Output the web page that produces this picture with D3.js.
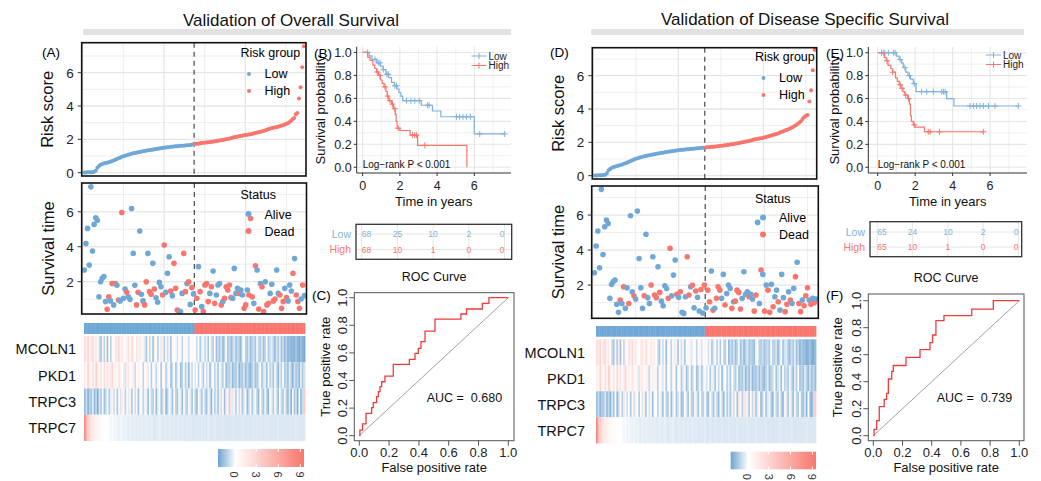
<!DOCTYPE html>
<html>
<head>
<meta charset="utf-8">
<script src="https://cdn.jsdelivr.net/npm/d3@7"></script>
<style>
body { margin: 0; background: #fff; }
svg { font-family: "Liberation Sans", Arial, Helvetica, sans-serif; }
</style>
</head>
<body>
<svg id="fig" width="1041" height="481"></svg>
<script>
// ---------------- data: overall survival (left) ----------------
var osRisk = [
0.01,0.01,0.02,0.02,0.03,0.03,0.05,0.12,0.30,0.40,
0.48,0.52,0.55,0.58,0.60,0.63,0.66,0.70,0.73,0.77,
0.82,0.86,0.90,0.95,0.99,1.02,1.05,1.08,1.11,1.13,
1.16,1.18,1.20,1.22,1.24,1.26,1.28,1.30,1.32,1.34,
1.35,1.37,1.38,1.40,1.42,1.43,1.45,1.46,1.48,1.50,
1.51,1.52,1.53,1.55,1.56,1.57,1.58,1.59,1.60,1.61,
1.62,1.62,1.63,1.64,1.65,1.66,1.68,1.70,
1.72,1.73,1.74,1.76,1.78,1.79,1.80,1.81,1.82,1.83,1.85,1.86,
1.88,1.89,1.91,1.93,1.94,1.96,1.98,2.00,2.02,2.04,2.07,2.10,
2.12,2.14,2.16,2.18,2.20,2.22,2.24,2.26,2.27,2.29,2.30,2.32,
2.35,2.38,2.40,2.43,2.45,2.47,2.50,2.53,2.56,2.60,2.63,2.66,
2.69,2.71,2.73,2.76,2.78,2.82,2.85,2.88,2.92,2.96,3.02,3.10,
3.20,3.28,3.50,3.58,4.45,5.12,6.32,7.58];
var osLowN = 68;
var osTime = [
2.67,4.19,5.05,2.95,7.43,3.75,5.28,5.66,5.52,1.14,
2.00,2.20,2.29,0.86,0.42,1.14,0.90,1.90,0.67,1.90,
1.80,0.95,0.90,5.96,1.05,1.58,1.39,1.14,0.99,6.19,
3.62,1.80,0.67,1.39,4.90,1.28,0.90,0.67,1.99,3.62,
1.43,1.28,3.05,1.58,1.08,0.82,1.96,1.71,1.24,4.10,
1.39,2.48,3.43,1.47,1.20,3.05,1.62,0.38,0.32,0.29,
1.33,3.62,1.43,1.90,1.99,0.70,1.66,1.30,
0.38,1.05,2.86,1.43,0.57,0.29,1.81,1.90,0.86,1.33,
1.71,2.61,0.76,1.24,1.81,1.90,0.67,0.86,1.05,1.71,
1.52,1.81,1.09,1.05,2.76,1.33,1.62,1.33,1.52,1.24,
0.48,0.67,1.52,1.24,5.62,1.14,0.76,2.91,2.67,0.44,
1.90,1.71,0.29,2.00,0.67,0.76,1.33,1.85,0.90,1.01,
2.67,1.33,1.24,0.48,0.86,1.62,1.09,0.90,1.81,1.47,
2.48,3.33,1.24,0.86,0.48,1.01,1.81,1.20];
var osStatus = [ // 1 = dead
0,0,0,0,0,0,0,0,0,0, 0,0,0,0,1,1,0,1,0,1, 0,1,0,1,0,0,1,0,0,0,
0,0,1,1,0,0,0,1,1,0, 1,1,0,1,0,0,0,0,1,1, 0,0,0,1,0,1,1,1,1,0,
0,1,1,0,1,0,1,0,
1,1,0,1,0,1,1,1,1,0, 1,0,1,0,0,0,1,0,1,1, 1,1,1,0,0,0,0,1,0,0,
1,1,0,1,1,1,0,1,0,1, 0,1,1,0,1,1,0,0,1,1, 0,0,1,1,1,0,1,0,0,0,
1,0,1,1,1,0,1,0];

var genes = ["MCOLN1", "PKD1", "TRPC3", "TRPC7"];
var osMcoln1 = [
2.6,1.4,3.2,0.8,2.0,2.8,1.0,1.8,0.4,-0.7,
-1.3,0.6,-1.0,1.2,-1.5,0.3,-0.9,0.9,0.5,2.2,
1.5,2.9,1.0,1.8,0.6,0.2,1.3,2.3,0.5,2.7,
1.2,0.4,2.0,0.8,1.6,0.1,1.0,-0.4,-1.2,0.8,
-0.8,0.4,-1.4,1.1,0.2,-1.0,0.6,-0.3,1.3,-1.1,
0.5,-0.7,1.0,-1.3,0.3,0.8,0.1,-0.5,0.6,0.2,
-0.9,0.5,0.9,0.0,-0.6,0.3,1.1,0.2,
0.1,-0.7,0.4,-1.1,-0.3,0.3,-0.9,0.0,-1.3,0.2,
-0.6,-1.0,0.5,-1.4,-0.8,-1.2,-0.4,-1.6,-0.9,0.1,
-1.3,-0.7,-1.5,-1.0,-0.3,-1.4,-0.8,-1.1,-1.6,-0.2,
0.2,-0.9,-1.2,-0.5,-1.5,-1.0,-0.6,-1.3,0.0,-0.8,
-1.1,-0.4,-1.4,-0.9,0.3,-1.2,-0.6,-0.2,-1.0,-1.5,
-0.5,-1.1,-0.3,-1.3,-0.8,-1.6,-1.0,-1.7,-1.4,-1.8,
-1.6,-1.9,-1.3,-1.7,-2.0,-1.5,-1.8,-2.1];
var osPkd1 = [
1.6,0.6,3.2,1.3,0.4,2.4,0.9,3.4,1.4,0.5,
2.0,0.2,2.8,1.1,2.1,0.0,1.7,3.0,0.7,1.3,
0.5,2.2,1.0,0.2,1.6,-0.5,1.2,1.8,0.3,0.9,
1.4,-0.7,0.6,1.3,0.1,0.7,-0.9,0.5,1.1,-0.3,
0.2,-1.1,0.6,0.0,-0.8,1.0,0.3,-1.3,0.1,0.7,
-1.0,-0.2,0.5,-1.4,-0.7,0.2,-1.2,-0.4,0.3,-1.5,
-0.9,0.1,-1.1,-0.3,-1.6,0.0,-0.8,0.2,
-0.4,0.3,-1.0,0.1,-0.2,-1.2,0.4,-0.7,0.0,-1.4,
-0.3,0.2,-0.9,-0.1,-1.3,0.3,-0.5,-1.0,0.1,-1.5,
-0.8,-1.1,-0.4,-1.6,-0.9,-1.3,-0.3,-1.7,-1.0,-1.2,
-0.5,-1.5,-0.8,-1.3,-1.7,-1.0,-0.4,-1.4,-1.1,-0.6,
0.2,-1.2,-0.5,-0.2,-1.4,0.1,-0.9,-0.4,-1.3,0.0,
-0.6,-1.6,-0.3,-1.0,0.2,-1.2,-0.8,-1.5,-0.2,-1.1,
-1.7,-0.5,-1.3,-0.9,-1.6,-0.3,-1.2,-0.6];
var osTrpc3 = [
-1.5,-0.7,-1.8,-1.0,-1.3,-0.3,-1.6,-0.9,-1.9,-0.4,
-1.2,0.2,-1.4,-0.8,0.5,-1.1,-0.2,1.0,-0.7,0.3,
-1.3,0.7,-0.4,1.5,0.1,-1.0,0.6,-0.3,1.1,-1.2,
0.2,-0.6,0.8,-1.4,0.0,0.5,-0.9,1.2,-0.2,-1.5,
0.3,-0.8,-1.1,0.7,-1.6,-0.3,0.2,-1.3,-0.7,0.6,
-1.7,-1.0,0.1,-0.4,-1.4,0.5,-0.9,-1.2,1.0,-0.2,
-1.5,0.3,-0.7,-1.1,0.7,-0.3,-1.3,0.1,
-0.9,-1.6,0.2,-0.4,-1.2,0.9,-0.8,-1.4,0.0,-0.5,
-1.7,0.5,-1.0,-0.2,-1.3,1.2,-0.7,0.3,-1.5,1.8,
0.8,-0.9,2.0,-0.3,1.0,-1.1,0.2,-0.7,1.4,-1.3,
-0.4,0.6,-1.6,-0.8,0.1,-1.2,-0.3,0.9,-1.0,-1.5,
0.3,-0.7,-1.3,0.0,-0.9,-1.7,0.5,-0.2,-1.1,0.8,
-0.5,-1.4,0.2,-0.8,-1.2,0.6,-1.0,-1.5,-0.3,-1.8,
0.3,-1.3,-0.6,-1.9,0.1,-1.6,-0.7,3.8];
var osTrpc7 = [
8.0,5.0,3.6,2.8,2.1,1.6,1.3,1.0,0.8,0.6,
0.4,0.5,0.3,0.2,0.3,0.1,0.0,0.1,-0.1,0.0,
-0.1,-0.2,0.0,-0.1,-0.2,-0.1,-0.2,-0.3,-0.1,-0.3,
-0.2,-0.2,-0.3,-0.2,-0.3,-0.2,-0.3,-0.3,-0.2,-0.3,
-0.3,-0.2,-0.3,-0.4,-0.3,-0.3,-0.2,-0.3,-0.4,-0.3,
-0.3,-0.4,-0.3,-0.3,-0.4,-0.3,-0.4,-0.3,-0.3,-0.4,
-0.3,-0.4,-0.4,-0.3,-0.4,-0.3,-0.4,-0.4,
-0.4,-0.3,-0.4,-0.4,-0.3,-0.4,-0.4,-0.4,-0.3,-0.4,
-0.4,-0.4,-0.3,-0.4,-0.4,-0.4,-0.4,-0.3,-0.4,-0.4,
-0.4,-0.4,-0.4,-0.3,-0.4,-0.4,-0.4,-0.4,-0.4,-0.3,
-0.4,-0.4,-0.4,-0.4,-0.4,-0.4,-0.3,-0.4,-0.4,-0.4,
-0.4,-0.4,-0.4,-0.4,-0.3,-0.4,-0.4,-0.4,-0.4,-0.4,
-0.4,-0.3,-0.4,-0.4,-0.4,-0.4,-0.4,-0.4,-0.4,-0.4,
-0.4,-0.4,-0.3,-0.4,-0.4,-0.4,-0.4,-0.4];

// Kaplan-Meier (years, survival after each drop) and censor times
var kmOsLowDrops = [[0.35,0.97],[0.5,0.94],[0.75,0.91],[0.95,0.88],[1.1,0.85],[1.25,0.81],[1.4,0.78],[1.55,0.74],
  [1.7,0.71],[1.85,0.68],[1.95,0.65],[2.05,0.62],[2.15,0.58],[3.15,0.54],[3.75,0.49],[4.2,0.44],[6.0,0.29]];
var kmOsLowCens = [0.27,0.66,0.84,0.93,1.11,1.3,1.38,1.73,1.82,2.36,2.59,2.8,3.04,3.48,3.57,5.04,5.21,5.39,5.57,5.79,6.29,7.63];
var kmOsLowEnd = 7.63;
var kmOsHighDrops = [[0.27,0.96],[0.4,0.93],[0.55,0.89],[0.65,0.86],[0.75,0.83],[0.85,0.80],[0.95,0.76],[1.05,0.73],
  [1.15,0.70],[1.25,0.66],[1.32,0.62],[1.4,0.58],[1.55,0.55],[1.65,0.51],[1.75,0.46],[1.8,0.40],[1.85,0.34],
  [2.0,0.32],[2.55,0.28],[2.95,0.19],[5.6,0.0]];
var kmOsHighCens = [0.78,0.93,1.2,1.34,1.46,1.6,1.73,1.91,2.68,2.8,2.89,3.34];
var kmOsHighEnd = 5.6;

var tableTimes = [0, 2, 4, 6, 8];
var osAtRiskLow = [68, 25, 10, 2, 0];
var osAtRiskHigh = [68, 10, 1, 0, 0];

var rocOsFpr = [0,0.004,0.022,0.045,0.083,0.094,0.116,0.128,0.139,0.15,0.172,0.228,0.336,0.374,0.396,0.414,0.441,0.508,0.682,0.72,0.826,0.87,1];
var rocOsTpr = [0,0.041,0.085,0.162,0.203,0.239,0.283,0.319,0.355,0.391,0.432,0.517,0.553,0.597,0.633,0.681,0.758,0.845,0.882,0.918,0.959,1.0,1];
var osAuc = "0.680";

// ---------------- data: disease specific survival (right) ----------------
var dssRisk = [
0.01,0.01,0.02,0.02,0.03,0.04,0.06,0.15,0.32,0.42,
0.48,0.52,0.55,0.58,0.61,0.64,0.67,0.71,0.75,0.79,
0.84,0.88,0.92,0.97,1.01,1.04,1.07,1.10,1.13,1.16,
1.18,1.21,1.23,1.25,1.27,1.29,1.31,1.33,1.35,1.37,
1.38,1.40,1.42,1.43,1.45,1.47,1.48,1.50,1.51,1.52,
1.54,1.55,1.56,1.57,1.58,1.59,1.60,1.61,1.62,1.63,
1.64,1.65,1.66,1.67,1.68,
1.69,1.70,1.71,1.72,1.73,1.74,1.75,1.76,1.78,1.79,
1.80,1.82,1.83,1.85,1.86,1.88,1.89,1.91,1.93,1.95,
1.97,1.99,2.01,2.03,2.05,2.07,2.09,2.12,2.15,2.18,
2.20,2.22,2.24,2.25,2.27,2.30,2.33,2.36,2.39,2.42,
2.45,2.48,2.52,2.55,2.60,2.64,2.68,2.72,2.76,2.80,
2.85,2.90,2.96,3.02,3.10,3.18,3.26,3.40,3.52,3.60,
3.64,4.45,5.12,6.32,7.55];
var dssLowN = 65;
var dssTime = [
2.70,4.23,5.09,2.99,7.47,3.75,5.33,5.71,5.52,1.24,
2.04,2.20,2.29,0.90,0.44,1.14,0.95,1.90,0.67,1.85,
0.95,5.96,1.62,1.39,1.20,6.23,3.52,1.85,0.67,1.39,
4.90,1.28,0.95,2.00,3.62,1.43,1.28,3.05,1.58,1.08,
0.82,1.96,1.80,1.24,4.10,1.39,2.57,3.43,1.47,1.30,
1.62,0.44,0.38,1.33,3.62,1.43,1.90,1.99,0.70,1.66,
1.30,0.52,1.75,0.40,2.00,
0.70,1.71,1.05,2.80,0.57,0.67,1.24,1.90,1.71,1.24,
2.61,0.86,1.52,2.00,1.81,0.67,1.05,1.09,1.71,1.58,
0.63,1.24,2.76,1.47,1.62,1.33,1.47,1.20,0.51,1.43,
5.58,0.95,2.86,2.61,0.51,2.00,1.71,0.44,2.04,0.76,
1.33,1.71,1.05,0.57,2.61,1.28,0.48,0.90,1.62,1.14,
0.95,1.81,2.48,3.30,0.95,0.48,1.14,0.82,1.39,1.85,
1.14,0.90,1.24,0.99,1.20];
var dssStatus = [
0,0,0,0,0,0,0,0,0,0, 0,0,0,0,0,1,0,1,0,0, 1,0,0,1,0,0,0,0,0,1,
0,0,0,1,0,1,1,0,1,0, 0,0,0,1,1,0,0,0,1,0, 1,0,0,0,1,1,0,1,0,1,
0,0,1,0,1,
0,1,1,0,1,0,1,1,1,0, 0,1,0,0,0,1,0,1,1,1, 1,0,0,0,0,1,0,0,1,1,
0,0,1,0,1,0,1,1,0,1, 0,0,1,0,0,0,1,1,0,1, 0,0,1,0,1,1,0,1,1,1,
0,1,0,1,0];

var dssMcoln1 = [
2.4,1.6,3.0,0.7,2.2,2.6,1.1,1.7,0.3,-0.8,
-1.2,0.7,-1.1,1.3,-1.4,0.4,-0.8,1.0,0.6,2.4,
1.4,2.7,0.9,1.9,0.5,0.3,1.4,2.1,0.6,2.5,
1.1,0.3,1.8,0.9,1.5,0.2,-0.5,-1.3,0.9,-0.7,
0.5,-1.5,1.0,0.1,-0.9,0.7,-0.2,1.2,-1.2,0.4,
-0.6,1.1,-1.2,0.4,0.7,0.0,-0.4,0.5,0.3,-0.8,
0.6,0.8,-0.5,0.4,1.0,
0.2,-0.6,0.5,-1.2,-0.4,0.2,-1.0,0.1,-1.2,0.3,
-0.7,-1.1,0.4,-1.5,-0.7,-1.3,-0.5,-1.5,-0.8,0.0,
-1.4,-0.6,-1.6,-0.9,-0.4,-1.3,-0.9,-1.2,-1.5,-0.1,
0.3,-1.0,-1.1,-0.6,-1.4,-0.9,-0.7,-1.2,0.1,-0.9,
-1.0,-0.5,-1.5,-0.8,0.2,-1.3,-0.5,-0.3,-1.1,-1.4,
-0.6,-1.2,-0.2,-1.4,-0.9,-1.7,-1.1,-1.6,-1.5,-1.9,
-1.7,-1.4,-1.8,-2.0,-1.6];
var dssPkd1 = [
1.5,0.7,3.0,1.2,0.5,2.6,0.8,3.3,1.5,0.4,
2.1,0.3,2.7,1.0,2.2,0.1,1.6,3.1,0.8,1.2,
0.6,2.3,0.9,0.3,1.5,-0.4,1.3,1.7,0.4,1.0,
1.3,-0.8,0.7,1.2,0.0,0.8,-1.0,0.6,1.0,-0.4,
0.3,-1.2,0.5,0.1,-0.9,0.9,0.2,-1.4,0.2,0.6,
-1.1,-0.3,0.4,-1.5,-0.6,0.3,-1.3,-0.5,0.2,-1.4,
-0.8,0.0,-1.2,-0.2,0.1,
-0.5,0.2,-1.1,0.0,-0.3,-1.3,0.3,-0.8,0.1,-1.5,
-0.2,0.3,-1.0,-0.2,-1.2,0.2,-0.6,-1.1,0.0,-1.4,
-0.9,-1.2,-0.5,-1.5,-0.8,-1.4,-0.4,-1.6,-1.1,-1.3,
-0.6,-1.4,-0.7,-1.2,-1.6,-0.9,-0.3,-1.5,-1.0,-0.7,
0.1,-1.3,-0.6,-0.1,-1.5,0.2,-1.0,-0.5,-1.2,0.1,
-0.7,-1.5,-0.2,-1.1,0.1,-1.3,-0.9,-1.4,-0.3,-1.0,
-1.6,-0.6,-1.4,-0.8,-1.5];
var dssTrpc3 = [
-1.4,-0.8,-1.7,-1.1,-1.2,-0.4,-1.5,-0.8,-1.8,-0.5,
-1.3,0.3,-1.5,-0.7,0.6,-1.0,-0.3,0.9,-0.6,0.4,
-1.2,0.8,-0.5,1.4,0.2,-1.1,0.5,-0.4,1.0,-1.3,
0.3,-0.5,0.7,-1.5,0.1,0.4,-1.0,1.1,-0.3,-1.4,
0.2,-0.9,-1.2,0.8,-1.5,-0.4,0.3,-1.2,-0.6,0.5,
-1.6,-1.1,0.2,-0.5,-1.3,0.6,-1.0,-1.1,0.9,-0.3,
-1.4,0.4,-0.8,-1.0,0.6,
-1.0,-1.5,0.3,-0.5,-1.3,1.0,-0.7,-1.5,0.1,-0.6,
-1.6,0.6,-1.1,-0.3,-1.2,1.3,-0.6,0.4,-1.4,1.9,
0.9,-1.0,2.1,-0.2,1.1,-1.2,0.3,-0.8,1.5,-1.2,
-0.3,0.7,-1.5,-0.9,0.2,-1.3,-0.4,1.0,-1.1,-1.6,
0.4,-0.8,-1.2,0.1,-1.0,-1.6,0.6,-0.3,-1.2,0.9,
-0.4,-1.5,0.3,-0.9,-1.1,0.5,-1.1,-1.4,-0.4,-1.7,
0.2,-1.4,-1.8,-0.7,3.6];
var dssTrpc7 = [
8.2,4.6,3.4,2.6,2.0,1.5,1.2,0.9,0.7,0.5,
0.4,0.5,0.2,0.3,0.2,0.1,0.0,0.1,-0.1,0.0,
-0.1,-0.2,0.0,-0.2,-0.1,-0.2,-0.3,-0.1,-0.3,-0.2,
-0.2,-0.3,-0.2,-0.3,-0.2,-0.3,-0.3,-0.2,-0.3,-0.3,
-0.2,-0.3,-0.4,-0.3,-0.3,-0.2,-0.3,-0.4,-0.3,-0.3,
-0.4,-0.3,-0.3,-0.4,-0.3,-0.4,-0.3,-0.3,-0.4,-0.3,
-0.4,-0.4,-0.3,-0.4,-0.3,
-0.4,-0.4,-0.3,-0.4,-0.4,-0.3,-0.4,-0.4,-0.4,-0.3,
-0.4,-0.4,-0.4,-0.3,-0.4,-0.4,-0.4,-0.4,-0.3,-0.4,
-0.4,-0.4,-0.4,-0.4,-0.3,-0.4,-0.4,-0.4,-0.4,-0.3,
-0.4,-0.4,-0.4,-0.4,-0.4,-0.3,-0.4,-0.4,-0.4,-0.4,
-0.4,-0.4,-0.4,-0.3,-0.4,-0.4,-0.4,-0.4,-0.4,-0.4,
-0.3,-0.4,-0.4,-0.4,-0.4,-0.4,-0.4,-0.4,-0.4,-0.3,
-0.4,-0.4,-0.4,-0.4,-0.4];

var kmDssLowDrops = [[1.0,0.97],[1.15,0.94],[1.28,0.91],[1.37,0.87],[1.5,0.83],[1.62,0.80],[1.75,0.77],
  [1.9,0.73],[2.05,0.66],[3.68,0.60],[4.07,0.535]];
var kmDssLowCens = [0.21,0.3,0.39,0.57,0.84,0.93,1.2,1.45,1.7,1.95,2.35,2.62,2.97,3.42,3.51,3.6,
  4.93,5.11,5.28,5.46,5.64,5.91,6.26,7.51];
var kmDssLowEnd = 7.51;
var kmDssHighDrops = [[0.35,0.96],[0.45,0.93],[0.55,0.89],[0.7,0.86],[0.8,0.83],[0.95,0.78],[1.05,0.75],
  [1.15,0.72],[1.25,0.69],[1.35,0.66],[1.45,0.63],[1.6,0.60],[1.7,0.55],[1.75,0.45],[1.8,0.40],
  [1.9,0.37],[2.0,0.35],[2.5,0.31]];
var kmDssHighCens = [0.5,0.8,1.2,1.3,1.5,1.65,1.95,2.7,2.8,3.3,5.64];
var kmDssHighEnd = 5.64;

var dssAtRiskLow = [65, 24, 10, 2, 0];
var dssAtRiskHigh = [65, 10, 1, 0, 0];

var rocDssFpr = [0,0.005,0.023,0.041,0.075,0.091,0.103,0.126,0.137,0.224,0.32,0.388,0.406,0.429,0.484,0.674,0.822,1];
var rocDssTpr = [0,0.047,0.111,0.215,0.269,0.314,0.42,0.477,0.52,0.58,0.637,0.69,0.746,0.852,0.889,0.938,1.0,1];
var dssAuc = "0.739";

// ---------------- drawing ----------------
var svg = d3.select("#fig");
var blue = "#6fa8d6", red = "#f8766d", gridCol = "#e6e6e6";
var heatColor = d3.scaleLinear().domain([-2.2, 0.2, 9.5]).range(["#70a3d0", "#ffffff", "#f8766d"]);

function drawTitle(txt, cx, by, bx0, bx1) {
    svg.append("text").attr("x", cx).attr("y", by).attr("text-anchor", "middle")
        .attr("font-size", 17).attr("fill", "#111").text(txt);
    svg.append("rect").attr("x", bx0).attr("y", 29).attr("width", bx1 - bx0).attr("height", 6)
        .attr("fill", "#e2e2e2");
}

function gridLines(g, x, y, xs, ys, w) {
    g.selectAll(null).data(xs).enter().append("line")
        .attr("x1", x).attr("x2", x).attr("y1", y.range()[0]).attr("y2", y.range()[1])
        .attr("stroke", gridCol).attr("stroke-width", w);
    g.selectAll(null).data(ys).enter().append("line")
        .attr("x1", x.range()[0]).attr("x2", x.range()[1]).attr("y1", y).attr("y2", y)
        .attr("stroke", gridCol).attr("stroke-width", w);
}

function yTicks(g, y, x0, vals, fs) {
    vals.forEach(function (v) {
        g.append("line").attr("x1", x0 - 4).attr("x2", x0).attr("y1", y(v)).attr("y2", y(v))
            .attr("stroke", "#333").attr("stroke-width", 1);
        g.append("text").attr("x", x0 - 8).attr("y", y(v)).attr("dy", "0.36em")
            .attr("text-anchor", "end").attr("font-size", fs).attr("fill", "#222").text(v);
    });
}

function vLabel(g, txt, bx, cy, fs) {
    g.append("text").attr("transform", "translate(" + bx + "," + cy + ") rotate(-90)")
        .attr("text-anchor", "middle").attr("font-size", fs).attr("fill", "#111").text(txt);
}

function drawRisk(L, risk, nLow) {
    var g = svg.append("g");
    var n = risk.length;
    var x = d3.scaleLinear().domain([0, n + 1]).range([L.x0 + 1, L.x1 - 0.5]);
    var y = d3.scaleLinear().domain(L.yDom).range([L.y1, L.y0]);
    gridLines(g, x, y, [25, 75, 125], [1, 3, 5, 7], 0.7);
    gridLines(g, x, y, [0, 50, 100], [0, 2, 4, 6], 1.3);
    g.append("line").attr("x1", x(nLow + 0.5)).attr("x2", x(nLow + 0.5))
        .attr("y1", L.y0).attr("y2", L.y1).attr("stroke", "#555").attr("stroke-width", 1.3)
        .attr("stroke-dasharray", "5,4");
    g.selectAll(null).data(risk).enter().append("circle")
        .attr("cx", function (d, i) { return x(i + 1); })
        .attr("cy", function (d) { return y(d); })
        .attr("r", 2)
        .attr("fill", function (d, i) { return i < nLow ? blue : red; });
    g.append("rect").attr("x", L.x0).attr("y", L.y0).attr("width", L.x1 - L.x0).attr("height", L.y1 - L.y0)
        .attr("fill", "none").attr("stroke", "#111").attr("stroke-width", 1.6);
    yTicks(g, y, L.x0, [0, 2, 4, 6], 13.5);
    vLabel(g, "Risk score", L.labX, (L.y0 + L.y1) / 2, 16.5);
    g.append("text").attr("x", L.tagX).attr("y", L.tagY).attr("font-size", 13.5).text(L.tag);
    // legend
    g.append("text").attr("x", L.legX).attr("y", L.legY).attr("font-size", 12.5).text("Risk group");
    [["Low", blue], ["High", red]].forEach(function (d, i) {
        g.append("circle").attr("cx", L.legX + 8.5).attr("cy", L.legY + 17 + i * 17).attr("r", 2).attr("fill", d[1]);
        g.append("text").attr("x", L.legX + 24).attr("y", L.legY + 21 + i * 17).attr("font-size", 12.5).text(d[0]);
    });
}

function drawSurv(L, time, status, nLow) {
    var g = svg.append("g");
    var n = time.length;
    var x = d3.scaleLinear().domain([0, n + 1]).range([L.x0 + 1, L.x1 - 0.5]);
    var y = d3.scaleLinear().domain(L.yDom).range([L.y1, L.y0]);
    gridLines(g, x, y, [25, 75, 125], [1, 3, 5, 7], 0.7);
    gridLines(g, x, y, [0, 50, 100], [2, 4, 6], 1.3);
    g.append("line").attr("x1", x(nLow + 0.5)).attr("x2", x(nLow + 0.5))
        .attr("y1", L.y0).attr("y2", L.y1).attr("stroke", "#555").attr("stroke-width", 1.3)
        .attr("stroke-dasharray", "5,4");
    g.selectAll(null).data(time).enter().append("circle")
        .attr("cx", function (d, i) { return x(i + 1); })
        .attr("cy", function (d) { return y(d); })
        .attr("r", 2.8)
        .attr("fill", function (d, i) { return status[i] ? red : blue; });
    g.append("rect").attr("x", L.x0).attr("y", L.y0).attr("width", L.x1 - L.x0).attr("height", L.y1 - L.y0)
        .attr("fill", "none").attr("stroke", "#111").attr("stroke-width", 1.6);
    yTicks(g, y, L.x0, [2, 4, 6], 13.5);
    vLabel(g, "Survival time", L.labX, (L.y0 + L.y1) / 2, 16.5);
    g.append("text").attr("x", L.legX).attr("y", L.legY).attr("font-size", 12.5).text("Status");
    [["Alive", blue], ["Dead", red]].forEach(function (d, i) {
        g.append("circle").attr("cx", L.legX + 8).attr("cy", L.legY + 15 + i * 17).attr("r", 3).attr("fill", d[1]);
        g.append("text").attr("x", L.legX + 24).attr("y", L.legY + 19.5 + i * 17).attr("font-size", 12.5).text(d[0]);
    });
}

function drawHeat(H, rows, nLow) {
    var g = svg.append("g");
    var n = rows[0].length;
    var x = d3.scaleBand().domain(d3.range(n)).range([H.x0, H.x1]);
    var y = d3.scaleBand().domain(genes).range([H.ry0, H.ry1]);
    g.selectAll(null).data(d3.range(n)).enter().append("rect")
        .attr("x", function (i) { return x(i); }).attr("y", H.ay0)
        .attr("width", x.bandwidth() + 0.4).attr("height", H.ay1 - H.ay0)
        .attr("fill", function (i) { return i < nLow ? blue : red; });
    rows.forEach(function (vals, r) {
        g.selectAll(null).data(vals).enter().append("rect")
            .attr("x", function (d, i) { return x(i); }).attr("y", y(genes[r]))
            .attr("width", x.bandwidth() + 0.4).attr("height", y.bandwidth())
            .attr("fill", function (d) { return heatColor(d); });
        g.append("text").attr("x", H.labX).attr("y", y(genes[r]) + y.bandwidth() / 2).attr("dy", "0.36em")
            .attr("text-anchor", "end").attr("font-size", 14.5).attr("fill", "#111").text(genes[r]);
    });
    // colour bar
    var c = d3.scaleLinear().domain([-2.2, 9.5]).range([H.cx0, H.cx1]);
    var gid = "grad" + Math.round(H.cx0);
    var grad = svg.append("defs").append("linearGradient").attr("id", gid);
    heatColor.domain().forEach(function (v) {
        grad.append("stop").attr("offset", ((v + 2.2) / 11.7 * 100) + "%").attr("stop-color", heatColor(v));
    });
    g.append("rect").attr("x", H.cx0).attr("y", H.cy0).attr("width", H.cx1 - H.cx0).attr("height", H.cy1 - H.cy0)
        .attr("fill", "url(#" + gid + ")");
    [0, 3, 6, 9].forEach(function (v) {
        g.append("line").attr("x1", c(v)).attr("x2", c(v)).attr("y1", H.cy0).attr("y2", H.cy0 + 3)
            .attr("stroke", "#fff").attr("stroke-width", 1);
        g.append("line").attr("x1", c(v)).attr("x2", c(v)).attr("y1", H.cy1 - 3).attr("y2", H.cy1)
            .attr("stroke", "#fff").attr("stroke-width", 1);
        g.append("text").attr("transform", "translate(" + c(v) + "," + (H.cy1 + 4.5) + ") rotate(90)")
            .attr("dy", "0.36em").attr("font-size", 11).attr("fill", "#333").text(v);
    });
}

function stepPoints(drops, end) {
    var pts = [[0, 1]];
    drops.forEach(function (d) { pts.push(d); });
    var last = pts[pts.length - 1];
    if (last[0] < end) pts.push([end, last[1]]);
    return pts;
}
function survAt(drops, t) {
    var s = 1;
    drops.forEach(function (d) { if (d[0] <= t) s = d[1]; });
    return s;
}

function drawKM(K, curves, atLow, atHigh) {
    var g = svg.append("g");
    var x = d3.scaleLinear().domain(K.xDom).range([K.x0, K.x1]);
    var y = d3.scaleLinear().domain([-0.05, 1.05]).range([K.y1, K.y0]);
    gridLines(g, x, y, [1, 3, 5, 7], [0.1, 0.3, 0.5, 0.7, 0.9], 0.6);
    gridLines(g, x, y, [0, 2, 4, 6], [0, 0.2, 0.4, 0.6, 0.8, 1.0], 1.1);
    g.append("line").attr("x1", K.x0).attr("x2", K.x0).attr("y1", K.y0).attr("y2", K.y1).attr("stroke", "#333");
    g.append("line").attr("x1", K.x0).attr("x2", K.x1).attr("y1", K.y1).attr("y2", K.y1).attr("stroke", "#333");
    [0, 0.2, 0.4, 0.6, 0.8, 1.0].forEach(function (v) {
        g.append("line").attr("x1", K.x0 - 3).attr("x2", K.x0).attr("y1", y(v)).attr("y2", y(v)).attr("stroke", "#333");
        g.append("text").attr("x", K.x0 - 5).attr("y", y(v)).attr("dy", "0.36em").attr("text-anchor", "end")
            .attr("font-size", 12.5).attr("fill", "#222").text(d3.format(".1f")(v));
    });
    [0, 2, 4, 6].forEach(function (v) {
        g.append("line").attr("x1", x(v)).attr("x2", x(v)).attr("y1", K.y1).attr("y2", K.y1 + 3).attr("stroke", "#333");
        g.append("text").attr("x", x(v)).attr("y", K.y1 + 17).attr("text-anchor", "middle")
            .attr("font-size", 12.5).attr("fill", "#222").text(v);
    });
    var line = d3.line().x(function (d) { return x(d[0]); }).y(function (d) { return y(d[1]); })
        .curve(d3.curveStepAfter);
    curves.forEach(function (c) {
        g.append("path").attr("d", line(stepPoints(c.drops, c.end))).attr("fill", "none")
            .attr("stroke", c.col).attr("stroke-width", 1.2);
        c.cens.forEach(function (t) {
            var cx = x(t), cy = y(survAt(c.drops, t));
            g.append("path").attr("d", "M" + (cx - 3) + "," + cy + "H" + (cx + 3) + "M" + cx + "," + (cy - 3) + "V" + (cy + 3))
                .attr("stroke", c.col).attr("stroke-width", 1);
        });
    });
    // legend
    curves.forEach(function (c, i) {
        var ly = K.legY + i * 9.5;
        g.append("path").attr("d", "M" + K.legX + "," + ly + "H" + (K.legX + 15) + "M" + (K.legX + 7.5) + "," + (ly - 3) + "V" + (ly + 3))
            .attr("stroke", c.col).attr("stroke-width", 1);
        g.append("text").attr("x", K.legX + 17).attr("y", ly).attr("dy", "0.36em").attr("font-size", 10)
            .attr("fill", "#222").text(c.name);
    });
    g.append("text").attr("x", x(0)).attr("y", K.y1 - 5).attr("font-size", 10).attr("fill", "#111")
        .text("Log\u2212rank P < 0.001");
    vLabel(g, "Survival probability", K.labX, (K.y0 + K.y1) / 2, 13);
    g.append("text").attr("x", (K.x0 + K.x1) / 2).attr("y", K.y1 + 33).attr("text-anchor", "middle")
        .attr("font-size", 13).attr("fill", "#111").text("Time in years");
    g.append("text").attr("x", K.tagX).attr("y", K.tagY).attr("font-size", 13.5).text(K.tag);

    // number at risk table
    var T = K.table;
    var tx = d3.scaleLinear().domain([0, 8]).range([T.t0, T.t8]);
    var rowsY = [T.r1, T.r2];
    tableTimes.forEach(function (t) {
        g.append("line").attr("x1", tx(t)).attr("x2", tx(t)).attr("y1", T.y0).attr("y2", T.y1)
            .attr("stroke", gridCol).attr("stroke-width", 1);
    });
    rowsY.forEach(function (ry) {
        g.append("line").attr("x1", T.x0).attr("x2", T.x1).attr("y1", ry).attr("y2", ry)
            .attr("stroke", gridCol).attr("stroke-width", 1);
    });
    g.append("rect").attr("x", T.x0).attr("y", T.y0).attr("width", T.x1 - T.x0).attr("height", T.y1 - T.y0)
        .attr("fill", "none").attr("stroke", "#333").attr("stroke-width", 1.3);
    [[atLow, "Low", "#7fb2da"], [atHigh, "High", red]].forEach(function (r, i) {
        g.append("text").attr("x", T.x0 - 5).attr("y", rowsY[i]).attr("dy", "0.36em").attr("text-anchor", "end")
            .attr("font-size", 10.5).attr("fill", r[2]).text(r[1]);
        r[0].forEach(function (v, j) {
            var t = tableTimes[j];
            g.append("text").attr("x", tx(t)).attr("y", rowsY[i]).attr("dy", "0.36em")
                .attr("text-anchor", j === 0 ? "start" : (j === tableTimes.length - 1 ? "end" : "middle"))
                .attr("font-size", 8.5).attr("fill", r[2]).text(v);
        });
    });
}

function drawROC(R, fpr, tpr, auc) {
    var g = svg.append("g");
    var x = d3.scaleLinear().domain([0, 1]).range([R.px0, R.px1]);
    var y = d3.scaleLinear().domain([0, 1]).range([R.py0, R.py1]);
    g.append("text").attr("x", (R.x0 + R.x1) / 2).attr("y", R.titleY).attr("text-anchor", "middle")
        .attr("font-size", 12.5).attr("fill", "#111").text("ROC Curve");
    g.append("line").attr("x1", x(0)).attr("y1", y(0)).attr("x2", x(1)).attr("y2", y(1))
        .attr("stroke", "#8a8a8a").attr("stroke-width", 0.8);
    var line = d3.line().x(function (d) { return x(d[0]); }).y(function (d) { return y(d[1]); })
        .curve(d3.curveStepAfter);
    g.append("path").attr("d", line(d3.zip(fpr, tpr))).attr("fill", "none")
        .attr("stroke", "#f03c3c").attr("stroke-width", 1.3);
    g.append("rect").attr("x", R.x0).attr("y", R.y0).attr("width", R.x1 - R.x0).attr("height", R.y1 - R.y0)
        .attr("fill", "none").attr("stroke", "#555").attr("stroke-width", 1);
    var ticks = [0, 0.2, 0.4, 0.6, 0.8, 1.0];
    ticks.forEach(function (v) {
        g.append("line").attr("x1", x(v)).attr("x2", x(v)).attr("y1", R.y1).attr("y2", R.y1 + 5).attr("stroke", "#555");
        g.append("text").attr("x", x(v)).attr("y", R.y1 + 16).attr("text-anchor", "middle")
            .attr("font-size", 13).attr("fill", "#222").text(d3.format(".1f")(v));
        g.append("line").attr("x1", R.x0 - 5).attr("x2", R.x0).attr("y1", y(v)).attr("y2", y(v)).attr("stroke", "#555");
        g.append("text").attr("transform", "translate(" + (R.x0 - 7) + "," + y(v) + ") rotate(-90)")
            .attr("text-anchor", "middle").attr("font-size", 13).attr("fill", "#222").text(d3.format(".1f")(v));
    });
    g.append("text").attr("x", (R.x0 + R.x1) / 2).attr("y", R.y1 + 31).attr("text-anchor", "middle")
        .attr("font-size", 13).attr("fill", "#111").text("False positive rate");
    vLabel(g, "True positive rate", R.labX, (R.y0 + R.y1) / 2, 13);
    g.append("text").attr("x", R.aucX).attr("y", R.aucY).attr("font-size", 12.5).attr("fill", "#111")
        .attr("xml:space", "preserve").style("white-space", "pre").text("AUC =  " + auc);
    g.append("text").attr("x", R.tagX).attr("y", R.tagY).attr("font-size", 13.5).text(R.tag);
}

// ---- left block: overall survival ----
drawTitle("Validation of Overall Survival", 291, 26, 83, 511);
drawRisk({x0: 81.7, x1: 306, y0: 42.7, y1: 176, yDom: [-0.2, 7.8], labX: 53, tagX: 42, tagY: 57, tag: "(A)",
    legX: 240.5, legY: 57}, osRisk, osLowN);
drawSurv({x0: 81.7, x1: 306.5, y0: 183, y1: 314, yDom: [0.15, 7.65], labX: 53.5, legX: 240.5, legY: 199},
    osTime, osStatus, osLowN);
drawHeat({x0: 84, x1: 305, ay0: 323, ay1: 334, ry0: 336, ry1: 441, labX: 76,
    cx0: 218, cx1: 304, cy0: 449, cy1: 467}, [osMcoln1, osPkd1, osTrpc3, osTrpc7], osLowN);
drawKM({x0: 356.7, x1: 511, y0: 46.7, y1: 173, xDom: [-0.32, 7.97], labX: 325, tagX: 314, tagY: 58, tag: "(B)",
    legX: 471.5, legY: 56,
    table: {x0: 356, x1: 511.7, y0: 224.3, y1: 259.3, r1: 234, r2: 249.5, t0: 361.7, t8: 504.5}},
    [{name: "Low", col: "#7fb2da", drops: kmOsLowDrops, cens: kmOsLowCens, end: kmOsLowEnd},
     {name: "High", col: red, drops: kmOsHighDrops, cens: kmOsHighCens, end: kmOsHighEnd}],
    osAtRiskLow, osAtRiskHigh);
drawROC({x0: 354.3, x1: 514, y0: 292.7, y1: 440.7, px0: 359.3, px1: 508.3, py0: 435.7, py1: 297.7,
    titleY: 281, labX: 330, aucX: 426.7, aucY: 401.5, tagX: 312, tagY: 300, tag: "(C)"},
    rocOsFpr, rocOsTpr, osAuc);

// ---- right block: disease specific survival ----
drawTitle("Validation of Disease Specific Survival", 805, 25, 591, 1024);
drawRisk({x0: 592.3, x1: 816.7, y0: 47.7, y1: 179, yDom: [-0.2, 7.68], labX: 563.5, tagX: 550, tagY: 57, tag: "(D)",
    legX: 755, legY: 61}, dssRisk, dssLowN);
drawSurv({x0: 591.7, x1: 818.3, y0: 186, y1: 318.3, yDom: [0.1, 7.66], labX: 564, legX: 755, legY: 202.5},
    dssTime, dssStatus, dssLowN);
drawHeat({x0: 596, x1: 816, ay0: 326, ay1: 336.7, ry0: 339.3, ry1: 443.3, labX: 585,
    cx0: 730.7, cx1: 816, cy0: 451.7, cy1: 469.3}, [dssMcoln1, dssPkd1, dssTrpc3, dssTrpc7], dssLowN);
drawKM({x0: 868.3, x1: 1027, y0: 47, y1: 173, xDom: [-0.5, 7.97], labX: 839, tagX: 826, tagY: 58, tag: "(E)",
    legX: 986, legY: 55,
    table: {x0: 870, x1: 1021.7, y0: 221.7, y1: 256.7, r1: 232, r2: 247, t0: 877.3, t8: 1018.5}},
    [{name: "Low", col: "#7fb2da", drops: kmDssLowDrops, cens: kmDssLowCens, end: kmDssLowEnd},
     {name: "High", col: red, drops: kmDssHighDrops, cens: kmDssHighCens, end: kmDssHighEnd}],
    dssAtRiskLow, dssAtRiskHigh);
drawROC({x0: 868.3, x1: 1024, y0: 294, y1: 440.7, px0: 873.3, px1: 1019.3, py0: 435.7, py1: 300.7,
    titleY: 282, labX: 841.5, aucX: 936.7, aucY: 401.5, tagX: 826, tagY: 300, tag: "(F)"},
    rocDssFpr, rocDssTpr, dssAuc);
</script>
</body>
</html>
